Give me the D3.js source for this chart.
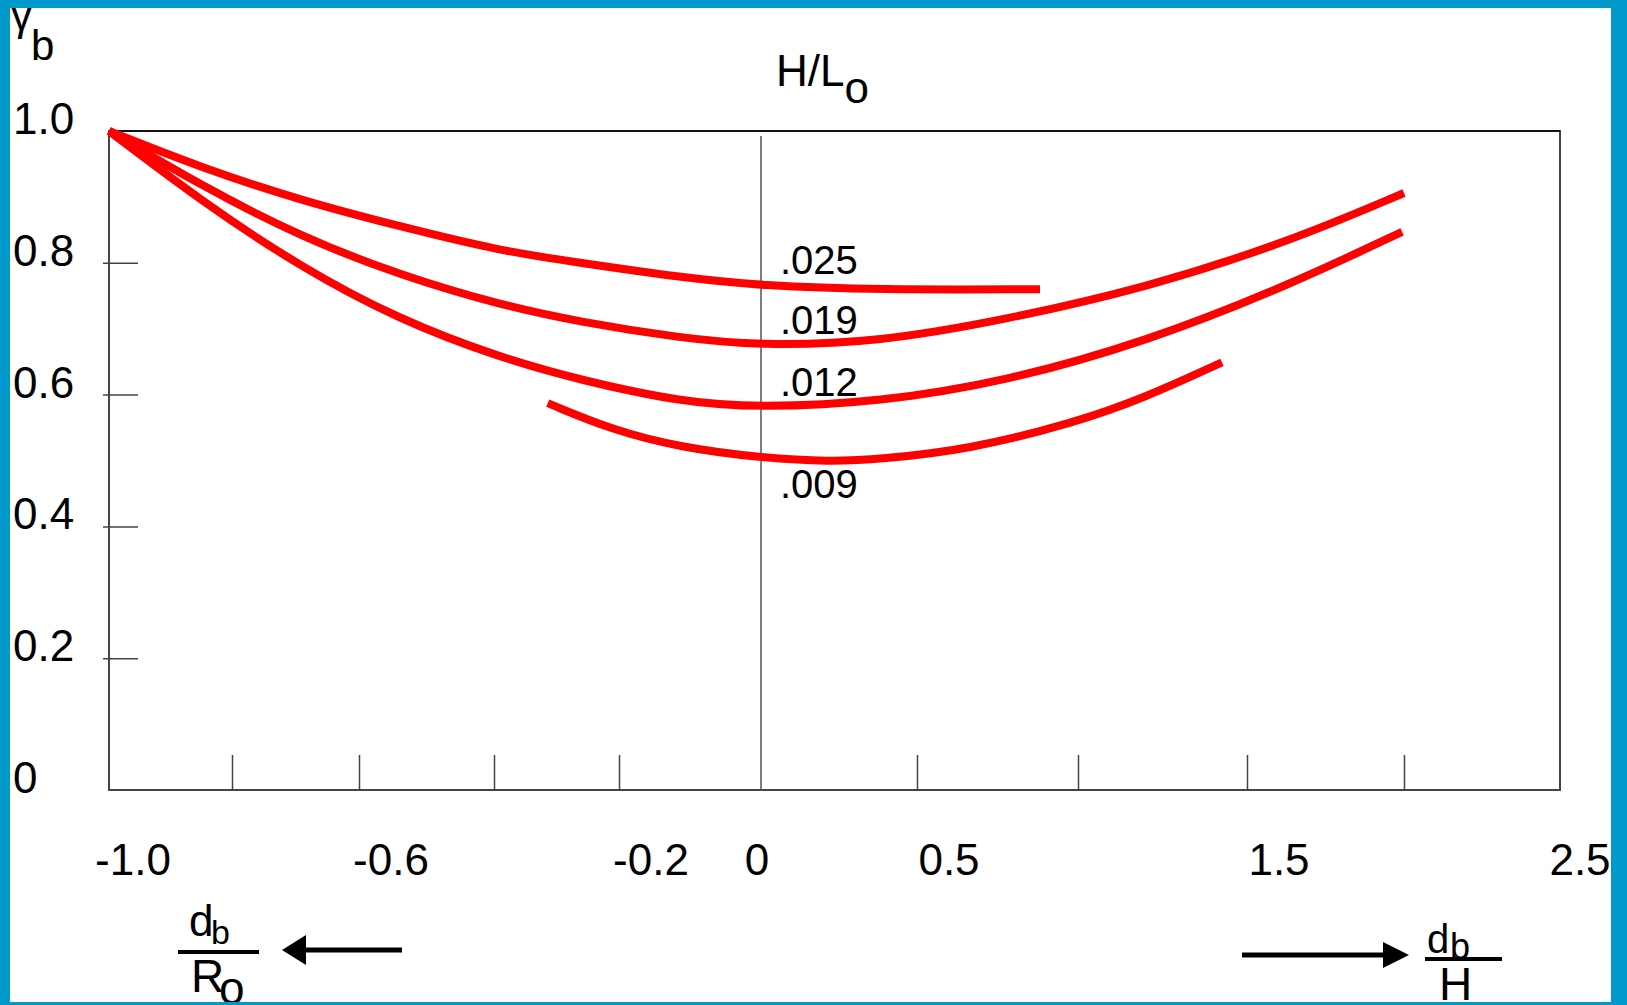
<!DOCTYPE html>
<html>
<head>
<meta charset="utf-8">
<script src="https://cdn.jsdelivr.net/npm/d3@7"></script>
<style>
  html, body { margin: 0; padding: 0; background: #fff; overflow: hidden; }
  svg { display: block; font-family: "Liberation Sans", Arial, sans-serif; }
</style>
</head>
<body>
<svg id="chart" width="1627" height="1005"></svg>
<script>
// axis values
const xTicks = [-0.8, -0.6, -0.4, -0.2, 0.5, 1.0, 1.5, 2.0];
const xLabels = [-1.0, -0.6, -0.2, 0, 0.5, 1.5, 2.5];
const yTicks = [0.2, 0.4, 0.6, 0.8];
const yLabels = [0, 0.2, 0.4, 0.6, 0.8, 1.0];

// curves, one per H/Lo value (x < 0 is db/Ro, x > 0 is db/H)
const curveNames = [".025", ".019", ".012", ".009"];
const curve025 = [[-1, 1.0], [-0.852, 0.945], [-0.693, 0.895], [-0.539, 0.855], [-0.39, 0.818],
  [-0.262, 0.8], [-0.114, 0.778], [0, 0.765], [0.381, 0.759], [0.882, 0.76]];
const curve019 = [[-1, 1.0], [-0.852, 0.918], [-0.693, 0.84], [-0.539, 0.781], [-0.39, 0.736],
  [-0.262, 0.71], [-0.114, 0.686], [0, 0.674], [0.381, 0.68], [0.767, 0.713], [1.201, 0.762],
  [1.634, 0.832], [2.0, 0.906]];
const curve012 = [[-1, 1.0], [-0.852, 0.895], [-0.693, 0.794], [-0.539, 0.713], [-0.39, 0.656],
  [-0.262, 0.622], [-0.114, 0.589], [0, 0.58], [0.381, 0.589], [0.767, 0.619], [1.201, 0.68],
  [1.634, 0.766], [1.994, 0.847]];
const curve009 = [[-0.314, 0.587], [-0.21, 0.546], [-0.114, 0.52], [0, 0.504], [0.221, 0.498],
  [0.381, 0.502], [0.655, 0.516], [0.988, 0.557], [1.201, 0.596], [1.426, 0.649]];
const curves = [curve025, curve019, curve012, curve009];
const labelBelow = [false, false, false, true];

const W = 1627, H = 1005;
const box = { left: 109, top: 131, right: 1560, bottom: 790 };
const blue = "#0099cc";
const fontSize = 44;

const svg = d3.select("#chart");

// piecewise x scale following the hand-drawn tick spacing
const x = d3.scaleLinear()
  .domain([-1, -0.8, -0.6, -0.4, -0.2, 0, 0.5, 1.0, 1.5, 2.0, 2.5])
  .range([box.left, 232, 359, 494, 619, 761, 917, 1078, 1247, 1404, box.right]);
const y = d3.scaleLinear().domain([0, 1]).range([box.bottom, box.top]);

// plot frame
svg.append("rect")
  .attr("x", box.left).attr("y", box.top)
  .attr("width", box.right - box.left).attr("height", box.bottom - box.top)
  .attr("fill", "none").attr("stroke", "#444").attr("stroke-width", 2);
svg.append("line")
  .attr("x1", box.left).attr("x2", box.right)
  .attr("y1", box.top).attr("y2", box.top)
  .attr("stroke", "#111").attr("stroke-width", 2);

// zero divider
svg.append("line")
  .attr("x1", x(0)).attr("x2", x(0))
  .attr("y1", box.top + 5).attr("y2", box.bottom)
  .attr("stroke", "#555").attr("stroke-width", 1.5);

// y ticks (crossing the left axis)
const yAxis = svg.append("g")
  .attr("transform", `translate(${box.left - 6},0)`)
  .call(d3.axisRight(y).tickValues(yTicks).tickSize(35).tickFormat(""));
yAxis.select(".domain").remove();
yAxis.selectAll("line").attr("stroke", "#444").attr("stroke-width", 1.5);

// x ticks (pointing up into the plot)
const xAxis = svg.append("g")
  .attr("transform", `translate(0,${box.bottom})`)
  .call(d3.axisTop(x).tickValues(xTicks).tickSize(35).tickFormat(""));
xAxis.select(".domain").remove();
xAxis.selectAll("line").attr("stroke", "#444").attr("stroke-width", 1.5);

const fmt = d => d === 0 ? "0" : d.toFixed(1);

// y labels
svg.append("g")
  .selectAll("text")
  .data(yLabels)
  .enter()
  .append("text")
  .attr("x", 13)
  .attr("y", d => y(d) + 3)
  .attr("font-size", fontSize)
  .attr("fill", "#000")
  .text(fmt);

// x labels
svg.append("g")
  .selectAll("text")
  .data(xLabels)
  .enter()
  .append("text")
  .attr("x", d => x(d) + (d === 0 ? -4 : d === -1 ? 24 : d === 2.5 ? 20 : 32))
  .attr("y", 875)
  .attr("text-anchor", "middle")
  .attr("font-size", fontSize)
  .attr("fill", "#000")
  .text(fmt);

// curves
const line = d3.line()
  .x(d => x(d[0]))
  .y(d => y(d[1]))
  .curve(d3.curveBasis);

svg.append("g")
  .attr("fill", "none")
  .selectAll("path")
  .data(curves)
  .enter()
  .append("path")
  .attr("d", line)
  .attr("stroke", "#ff0000")
  .attr("stroke-width", 8)
  .attr("stroke-linecap", "butt")
  .attr("stroke-linejoin", "round");

// curve labels next to the zero line
svg.append("g")
  .selectAll("text")
  .data(curveNames)
  .enter()
  .append("text")
  .attr("x", x(0) + 19)
  .attr("y", (d, i) => {
    const p = curves[i].find(c => c[0] === 0);
    return y(p[1]) + (labelBelow[i] ? 40 : -12);
  })
  .attr("font-size", 40)
  .attr("fill", "#000")
  .text(d => d);

// title H/Lo
const title = svg.append("text")
  .attr("x", 776).attr("y", 86)
  .attr("font-size", fontSize)
  .attr("fill", "#000");
title.append("tspan").text("H/L");
title.append("tspan").attr("dy", 17).text("o");

// gamma_b label
svg.append("text").attr("x", 11).attr("y", 30)
  .attr("font-size", 42).attr("fill", "#000").text("γ");
svg.append("text").attr("x", 31).attr("y", 60)
  .attr("font-size", 42).attr("fill", "#000").text("b");

// db/Ro with left arrow
const leftLab = svg.append("g");
leftLab.append("text").attr("x", 189).attr("y", 936).attr("font-size", fontSize).text("d");
leftLab.append("text").attr("x", 211).attr("y", 944).attr("font-size", 34).text("b");
leftLab.append("line").attr("x1", 178).attr("x2", 259).attr("y1", 952).attr("y2", 952)
  .attr("stroke", "#000").attr("stroke-width", 4);
leftLab.append("text").attr("x", 191).attr("y", 992).attr("font-size", 46).text("R");
leftLab.append("text").attr("x", 219).attr("y", 1004).attr("font-size", 46).text("o");
leftLab.append("line").attr("x1", 402).attr("x2", 300).attr("y1", 950).attr("y2", 950)
  .attr("stroke", "#000").attr("stroke-width", 5);
leftLab.append("path").attr("d", "M282,950 L306,935 L306,965 Z").attr("fill", "#000");

// db/H with right arrow
const rightLab = svg.append("g");
rightLab.append("line").attr("x1", 1242).attr("x2", 1388).attr("y1", 955).attr("y2", 955)
  .attr("stroke", "#000").attr("stroke-width", 5);
rightLab.append("path").attr("d", "M1409,955 L1383,942 L1383,968 Z").attr("fill", "#000");
rightLab.append("text").attr("x", 1427).attr("y", 953).attr("font-size", 40).text("d");
rightLab.append("text").attr("x", 1450).attr("y", 959).attr("font-size", 36).text("b");
rightLab.append("line").attr("x1", 1425).attr("x2", 1502).attr("y1", 959).attr("y2", 959)
  .attr("stroke", "#000").attr("stroke-width", 4);
rightLab.append("text").attr("x", 1439).attr("y", 1000).attr("font-size", 46).text("H");

// blue frame on top
const frame = svg.append("g").attr("fill", blue);
frame.append("rect").attr("x", 0).attr("y", 0).attr("width", W).attr("height", 8);
frame.append("rect").attr("x", 0).attr("y", 0).attr("width", 10).attr("height", H);
frame.append("rect").attr("x", 1611).attr("y", 0).attr("width", W - 1611).attr("height", H);
frame.append("rect").attr("x", 0).attr("y", 1002).attr("width", W).attr("height", H - 1002);
</script>
</body>
</html>
